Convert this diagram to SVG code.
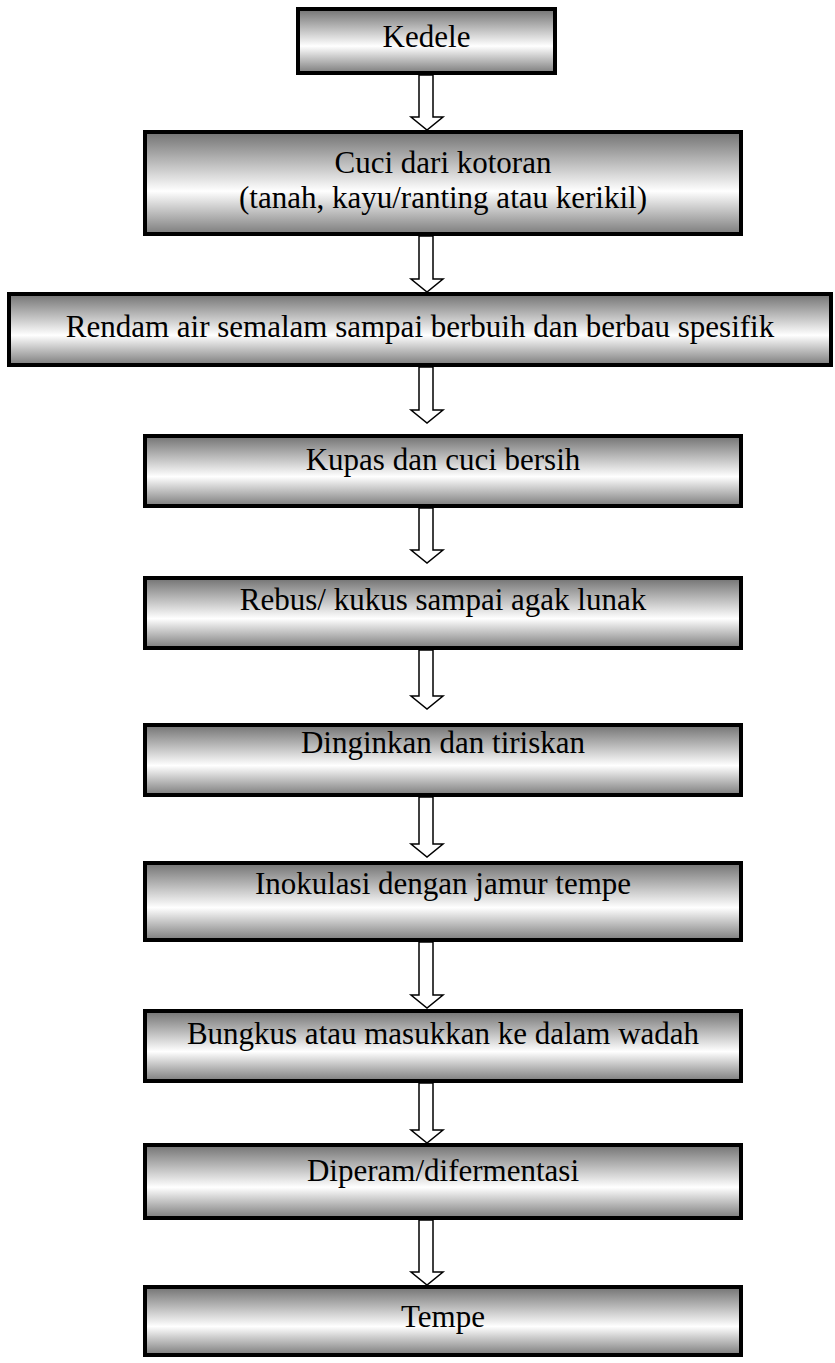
<svg xmlns="http://www.w3.org/2000/svg" width="835" height="1363" viewBox="0 0 835 1363">
<defs>
<linearGradient id="g" x1="0" y1="0" x2="0" y2="1">
<stop offset="0" stop-color="#727272"/>
<stop offset="0.58" stop-color="#ffffff"/>
<stop offset="1" stop-color="#7c7c7c"/>
</linearGradient>
<style>
.box{fill:url(#g);stroke:#000;stroke-width:4}
.t{font-family:"Liberation Serif","Times New Roman",serif;font-size:31px;fill:#000;text-anchor:middle}
.arr{fill:#fff;stroke:#000;stroke-width:1.5;stroke-linejoin:miter}
</style>
</defs>
<rect width="835" height="1363" fill="#fff"/>
<g id="connectors">
<path class="arr" d="M419,75 L433,75 L433,117 L443,117 L427,130 L411,117 L419,117 Z"/>
<path class="arr" d="M419,236 L433,236 L433,279 L443,279 L427,292 L411,279 L419,279 Z"/>
<path class="arr" d="M419,367 L433,367 L433,410 L443,410 L427,423 L411,410 L419,410 Z"/>
<path class="arr" d="M419,508 L433,508 L433,550 L443,550 L427,563 L411,550 L419,550 Z"/>
<path class="arr" d="M419,650 L433,650 L433,696 L443,696 L427,709 L411,696 L419,696 Z"/>
<path class="arr" d="M419,797 L433,797 L433,844 L443,844 L427,857 L411,844 L419,844 Z"/>
<path class="arr" d="M419,942 L433,942 L433,995 L443,995 L427,1008 L411,995 L419,995 Z"/>
<path class="arr" d="M419,1083 L433,1083 L433,1130 L443,1130 L427,1143 L411,1130 L419,1130 Z"/>
<path class="arr" d="M419,1220 L433,1220 L433,1272 L443,1272 L427,1285 L411,1272 L419,1272 Z"/>
</g>
<g id="n1"><rect class="box" x="298" y="9" width="257" height="64"/><text class="t" x="426.5" y="47">Kedele</text></g>
<g id="n2"><rect class="box" x="145" y="132" width="596" height="102"/><text class="t" x="443" y="173">Cuci dari kotoran</text><text class="t" x="443" y="208">(tanah, kayu/ranting atau kerikil)</text></g>
<g id="n3"><rect class="box" x="9" y="294" width="822" height="71"/><text class="t" x="420" y="337">Rendam air semalam sampai berbuih dan berbau spesifik</text></g>
<g id="n4"><rect class="box" x="145" y="436" width="596" height="70"/><text class="t" x="443" y="470">Kupas dan cuci bersih</text></g>
<g id="n5"><rect class="box" x="145" y="578" width="596" height="70"/><text class="t" x="443" y="610">Rebus/ kukus sampai agak lunak</text></g>
<g id="n6"><rect class="box" x="145" y="725" width="596" height="70"/><text class="t" x="443" y="753">Dinginkan dan tiriskan</text></g>
<g id="n7"><rect class="box" x="145" y="863" width="596" height="77"/><text class="t" x="443" y="894">Inokulasi dengan jamur tempe</text></g>
<g id="n8"><rect class="box" x="145" y="1011" width="596" height="70"/><text class="t" x="443" y="1044">Bungkus atau masukkan ke dalam wadah</text></g>
<g id="n9"><rect class="box" x="145" y="1145" width="596" height="73"/><text class="t" x="443" y="1181">Diperam/difermentasi</text></g>
<g id="n10"><rect class="box" x="145" y="1287" width="596" height="68"/><text class="t" x="443" y="1327">Tempe</text></g>
</svg>
